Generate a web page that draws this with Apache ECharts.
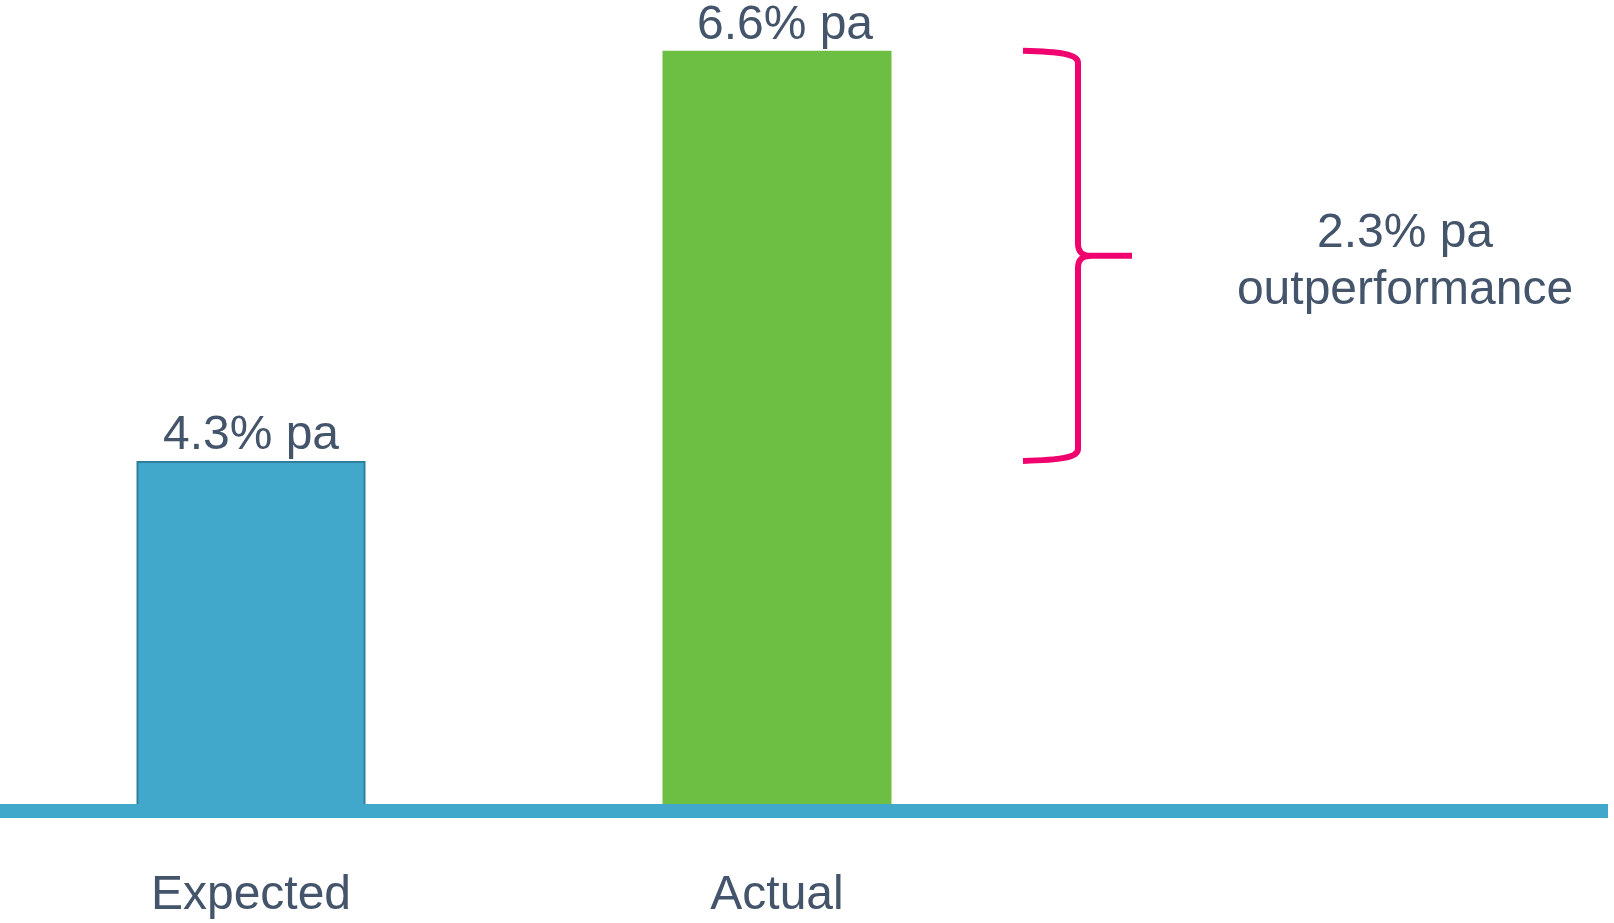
<!DOCTYPE html>
<html>
<head>
<meta charset="utf-8">
<script src="https://cdn.jsdelivr.net/npm/echarts@6/dist/echarts.min.js"></script>
<style>
  html, body { margin: 0; padding: 0; background: #ffffff; }
  #chart { width: 1614px; height: 923px; }
</style>
</head>
<body>
<div id="chart"></div>
<script>
// Annual returns, expected vs. actual
const categories = ['Expected', 'Actual'];
const returnsPa = [4.3, 6.6];
const valueSuffix = '% pa';
const gapCaption = 'outperformance';

const BAR_COLORS = ['#41A8CC', '#6DBF43'];
const BAR_BORDERS = ['#2F7F9C', '#6DBF43'];
const LABEL_SHIFT = [[0, 0], [8, 0]];
const BASELINE_COLOR = '#41A8CC';
const BRACE_COLOR = '#F0036F';
const TEXT_COLOR = '#44546A';
const FONT = '"Liberation Sans", Arial, Helvetica, sans-serif';

// value scale: the axis floor sits above zero, bars are clipped at the baseline
const Y_MIN = 2.3365;
const Y_MAX = 6.7;
const GRID_TOP = 33;
const GRID_BOTTOM = 112;

// brace geometry (horizontal, in pixels)
const BRACE_X0 = 1023, BRACE_XV = 1078, BRACE_XT = 1132, CAPTION_X = 1405;

const chart = echarts.init(document.getElementById('chart'), null, { renderer: 'canvas' });

// Curly brace between the two returns plus its caption
function renderBrace(params, api) {
  const yBot = api.coord([api.value(0), api.value(1)])[1];
  const yTop = api.coord([api.value(0), api.value(2)])[1];
  const yMid = (yTop + yBot) / 2;
  const x0 = BRACE_X0, xv = BRACE_XV, xt = BRACE_XT;
  const pathData =
    `M ${x0} ${yTop} C ${x0 + 37} ${yTop + 1} ${xv} ${yTop + 3} ${xv} ${yTop + 12} ` +
    `L ${xv} ${yMid - 12} C ${xv} ${yMid - 4} ${xv + 4} ${yMid} ${xv + 14} ${yMid} L ${xt} ${yMid} ` +
    `M ${xv + 14} ${yMid} C ${xv + 4} ${yMid} ${xv} ${yMid + 4} ${xv} ${yMid + 12} ` +
    `L ${xv} ${yBot - 12} C ${xv} ${yBot - 3} ${x0 + 37} ${yBot - 1} ${x0} ${yBot}`;
  const gap = (api.value(2) - api.value(1)).toFixed(1) + valueSuffix;
  return {
    type: 'group',
    children: [
      {
        type: 'path',
        shape: { pathData: pathData },
        style: { fill: null, stroke: BRACE_COLOR, lineWidth: 6, lineCap: 'butt', lineJoin: 'round' }
      },
      {
        type: 'text',
        x: CAPTION_X,
        y: yMid + 6,
        style: {
          text: gap + '\n' + gapCaption,
          fill: TEXT_COLOR,
          fontFamily: FONT,
          fontSize: 48,
          lineHeight: 57,
          align: 'center',
          verticalAlign: 'middle'
        }
      }
    ]
  };
}

chart.setOption({
  backgroundColor: '#ffffff',
  animation: false,
  grid: [
    { left: -12, width: 1052, top: GRID_TOP, bottom: GRID_BOTTOM, containLabel: false, outerBoundsMode: 'none' },
    { left: 0, right: 6, top: GRID_TOP, bottom: GRID_BOTTOM, containLabel: false, outerBoundsMode: 'none' }
  ],
  xAxis: [
    {
      type: 'category',
      gridIndex: 0,
      data: categories,
      axisLine: { show: false },
      axisTick: { show: false },
      axisLabel: { color: TEXT_COLOR, fontFamily: FONT, fontSize: 48, margin: 61 }
    },
    {
      type: 'value',
      gridIndex: 1,
      min: 0, max: 1,
      z: 5,
      axisLine: { show: true, onZero: false, lineStyle: { color: BASELINE_COLOR, width: 14, cap: 'butt' } },
      axisTick: { show: false },
      axisLabel: { show: false },
      splitLine: { show: false }
    }
  ],
  yAxis: [
    { type: 'value', gridIndex: 0, min: Y_MIN, max: Y_MAX, show: false, splitLine: { show: false } },
    { type: 'value', gridIndex: 1, min: 0, max: 1, show: false, splitLine: { show: false } }
  ],
  series: [
    {
      type: 'bar',
      xAxisIndex: 0,
      yAxisIndex: 0,
      barWidth: 229,
      clip: true,
      data: returnsPa.map((v, i) => ({
        value: v,
        itemStyle: { color: BAR_COLORS[i], borderColor: BAR_BORDERS[i], borderWidth: i === 0 ? 2 : 0 },
        label: { offset: LABEL_SHIFT[i] }
      })),
      label: {
        show: true,
        position: 'top',
        distance: 1,
        color: TEXT_COLOR,
        fontFamily: FONT,
        fontSize: 48,
        formatter: p => p.value.toFixed(1) + valueSuffix
      }
    },
    {
      type: 'custom',
      xAxisIndex: 0,
      yAxisIndex: 0,
      z: 10,
      silent: true,
      encode: { x: 0, y: [1, 2] },
      data: [[1, returnsPa[0], returnsPa[1]]],
      renderItem: renderBrace
    }
  ]
});
</script>
</body>
</html>
